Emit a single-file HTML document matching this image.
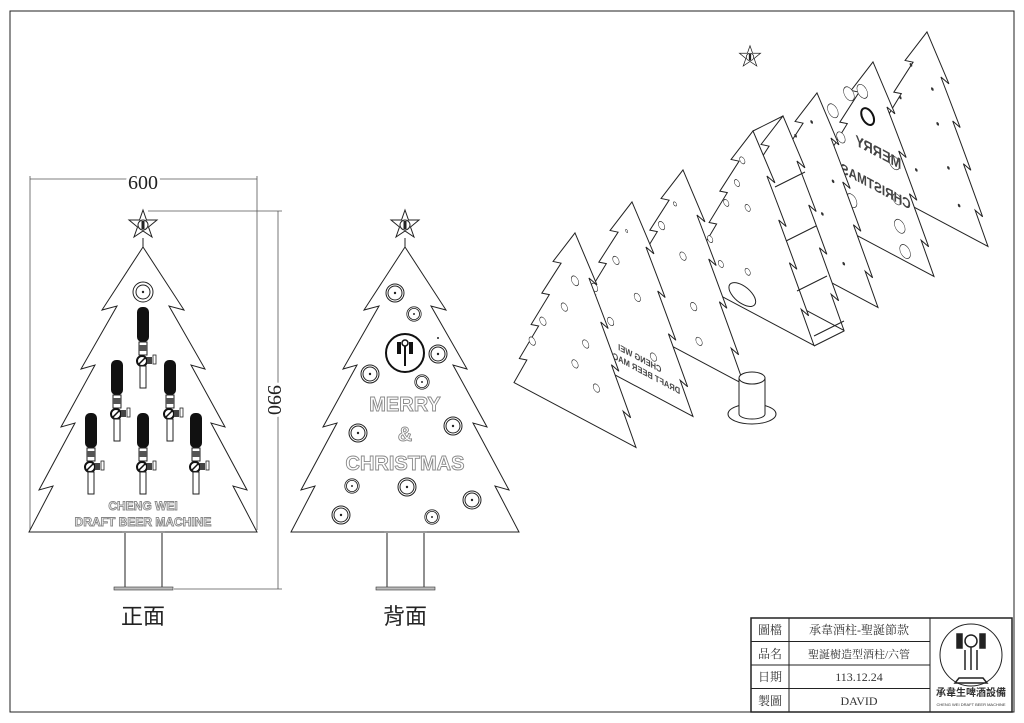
<!DOCTYPE html>
<html><head><meta charset="utf-8"><style>
html,body{margin:0;padding:0;background:#fff;}
svg{display:block;font-family:"Liberation Serif","Noto Serif CJK SC",serif;}
.l{fill:none;stroke:#222;stroke-width:1;}
.o{fill:#fff;stroke:#888;stroke-width:0.9;font-family:"Liberation Sans",sans-serif;font-weight:bold;}
</style></head><body>
<svg width="1024" height="723" viewBox="0 0 1024 723" xmlns="http://www.w3.org/2000/svg">
<defs>
<polygon id="tree" points="0,-285 41,-222 26,-226 62,-163 48,-167 82,-105 68,-109 104,-42 90,-46 114,0 -114,0 -90,-46 -104,-42 -68,-109 -82,-105 -48,-167 -62,-163 -26,-226 -41,-222" fill="#fff" stroke="#222" stroke-width="1" vector-effect="non-scaling-stroke"/>
<g id="star"><polygon points="0,-15 3.5,-5 14,-5 5.5,2 9,12 0,6 -9,12 -5.5,2 -14,-5 -3.5,-5" fill="#fff" stroke="#222"/><circle r="5" fill="none" stroke="#222"/><rect x="-1.5" y="-4" width="3" height="8" fill="#222"/></g>
<g id="tap"><rect x="-6" y="0" width="12" height="35" rx="5" fill="#111"/><rect x="-4" y="35" width="8" height="13" fill="#fff" stroke="#222"/><rect x="-4" y="38" width="8" height="6" fill="#555"/><circle cx="-1" cy="54" r="5" fill="#fff" stroke="#111" stroke-width="2"/><line x1="-4" y1="57" x2="2" y2="51" stroke="#111" stroke-width="1.5"/><rect x="4" y="50" width="5" height="7" fill="#444"/><rect x="10" y="48" width="3" height="9" fill="#fff" stroke="#222" stroke-width="0.8"/><rect x="-3" y="59" width="6" height="22" fill="#fff" stroke="#222"/></g>
<g id="orn"><circle r="9" fill="#fff" stroke="#222"/><circle r="7" fill="none" stroke="#222"/><circle r="1.2" fill="#222"/></g>
</defs>

<!-- frame -->
<rect x="10" y="11" width="1004" height="701" class="l"/>

<!-- FRONT VIEW -->
<line x1="30" y1="179" x2="257" y2="179" stroke="#555" stroke-width="0.8"/>
<line x1="30" y1="176" x2="30" y2="530" stroke="#555" stroke-width="0.8"/>
<line x1="257" y1="176" x2="257" y2="530" stroke="#555" stroke-width="0.8"/>
<text x="143" y="189" font-size="20" text-anchor="middle" fill="#222" style="paint-order:stroke" stroke="#fff" stroke-width="6">600</text>
<line x1="148" y1="211" x2="282" y2="211" stroke="#555" stroke-width="0.8"/>
<line x1="174" y1="589" x2="282" y2="589" stroke="#555" stroke-width="0.8"/>
<line x1="278" y1="211" x2="278" y2="589" stroke="#555" stroke-width="0.8"/>
<text transform="translate(268,400) rotate(90)" font-size="20" text-anchor="middle" fill="#222" style="paint-order:stroke" stroke="#fff" stroke-width="6">990</text>

<use href="#tree" transform="translate(143,532)"/>
<rect x="125" y="532" width="37" height="56" class="l"/>
<rect x="122" y="531" width="43" height="2" fill="#999"/>
<rect x="114" y="587" width="59" height="3" fill="#bbb" stroke="#333" stroke-width="0.6"/>
<line x1="143" y1="238" x2="143" y2="248" stroke="#222"/>
<use href="#star" transform="translate(143,225)"/>
<circle cx="143" cy="292" r="10" class="l"/><circle cx="143" cy="292" r="7" class="l"/><circle cx="143" cy="292" r="1.2" fill="#222"/>
<use href="#tap" transform="translate(143,307)"/>
<use href="#tap" transform="translate(117,360)"/>
<use href="#tap" transform="translate(170,360)"/>
<use href="#tap" transform="translate(91,413)"/>
<use href="#tap" transform="translate(143,413)"/>
<use href="#tap" transform="translate(196,413)"/>
<text x="143" y="510" font-size="12" text-anchor="middle" class="o">CHENG WEI</text>
<text x="143" y="526" font-size="12" text-anchor="middle" class="o">DRAFT BEER MACHINE</text>
<text x="143" y="624" font-size="22" text-anchor="middle" fill="#222" font-family="'Noto Sans CJK TC',sans-serif">正面</text>

<!-- BACK VIEW -->
<use href="#tree" transform="translate(405,532)"/>
<rect x="387" y="532" width="37" height="56" class="l"/>
<rect x="384" y="531" width="43" height="2" fill="#999"/>
<rect x="376" y="587" width="59" height="3" fill="#bbb" stroke="#333" stroke-width="0.6"/>
<line x1="405" y1="238" x2="405" y2="248" stroke="#222"/>
<use href="#star" transform="translate(405,225)"/>
<use href="#orn" transform="translate(395,293)"/>
<use href="#orn" transform="translate(414,314) scale(0.8)"/>
<use href="#orn" transform="translate(438,354)"/>
<use href="#orn" transform="translate(370,374)"/>
<use href="#orn" transform="translate(422,382) scale(0.8)"/>
<use href="#orn" transform="translate(358,433)"/>
<use href="#orn" transform="translate(453,426)"/>
<use href="#orn" transform="translate(352,486) scale(0.8)"/>
<use href="#orn" transform="translate(407,487)"/>
<use href="#orn" transform="translate(472,500)"/>
<use href="#orn" transform="translate(341,515)"/>
<use href="#orn" transform="translate(432,517) scale(0.8)"/>
<circle cx="405" cy="353" r="19" fill="#fff" stroke="#111" stroke-width="2"/>
<rect x="397" y="342" width="4" height="12" fill="#111"/><rect x="409" y="342" width="4" height="12" fill="#111"/>
<circle cx="405" cy="343" r="3" fill="none" stroke="#111" stroke-width="1.5"/><line x1="405" y1="346" x2="405" y2="366" stroke="#111" stroke-width="2"/>
<circle cx="438" cy="338" r="1" fill="#222"/>
<text x="405" y="411" font-size="20" text-anchor="middle" class="o">MERRY</text>
<text x="405" y="441" font-size="20" text-anchor="middle" class="o">&amp;</text>
<text x="405" y="470" font-size="20" text-anchor="middle" class="o">CHRISTMAS</text>
<text x="405" y="624" font-size="22" text-anchor="middle" fill="#222" font-family="'Noto Sans CJK TC',sans-serif">背面</text>

<!-- ISOMETRIC EXPLODED -->
<g>
<g transform="matrix(0.535,0.285,0,0.639,927,214)"><use href="#tree"/>
<g fill="#333"><circle cx="-30" cy="-220" r="2.5"/><circle cx="10" cy="-200" r="2.5"/><circle cx="-50" cy="-160" r="2.5"/><circle cx="20" cy="-150" r="2.5"/><circle cx="-60" cy="-100" r="2.5"/><circle cx="40" cy="-90" r="2.5"/><circle cx="-20" cy="-60" r="2.5"/><circle cx="60" cy="-40" r="2.5"/></g></g>
<g transform="matrix(0.535,0.285,0,0.639,873,244)"><use href="#tree"/>
<g fill="#fff" stroke="#222" vector-effect="non-scaling-stroke"><circle cx="-20" cy="-230" r="10"/><circle cx="-45" cy="-215" r="10"/><circle cx="-75" cy="-175" r="10"/><circle cx="-60" cy="-140" r="8"/><circle cx="40" cy="-145" r="10"/><circle cx="-90" cy="-120" r="10"/><circle cx="45" cy="-90" r="8"/><circle cx="-40" cy="-50" r="10"/><circle cx="50" cy="-50" r="10"/><circle cx="60" cy="-15" r="10"/></g>
<text x="-10" y="-140" font-size="24" font-family="Liberation Sans" font-weight="bold" fill="#444" transform="scale(-1,1)" text-anchor="middle">MERRY</text>
<text x="-5" y="-85" font-size="22" font-family="Liberation Sans" font-weight="bold" fill="#444" transform="scale(-1,1)" text-anchor="middle">CHRISTMAS</text>
<circle cx="-10" cy="-195" r="12" fill="none" stroke="#111" stroke-width="2" vector-effect="non-scaling-stroke"/></g>
<g transform="matrix(0.535,0.285,0,0.639,817,275)"><use href="#tree"/>
<g fill="#333"><circle cx="-10" cy="-235" r="2.5"/><circle cx="-40" cy="-200" r="2.5"/><circle cx="-60" cy="-150" r="2.5"/><circle cx="30" cy="-160" r="2.5"/><circle cx="-80" cy="-90" r="2.5"/><circle cx="10" cy="-100" r="2.5"/><circle cx="-30" cy="-50" r="2.5"/><circle cx="50" cy="-40" r="2.5"/></g></g>
<!-- box tree -->
<g transform="matrix(0.535,0.285,0,0.639,783,298)"><use href="#tree"/></g>
<g transform="matrix(0.535,0.285,0,0.639,753,313)"><use href="#tree"/>
<g fill="#fff" stroke="#222" vector-effect="non-scaling-stroke"><circle cx="-20" cy="-230" r="5"/><circle cx="-30" cy="-190" r="5"/><circle cx="-50" cy="-150" r="5"/><circle cx="-10" cy="-160" r="5"/><circle cx="-80" cy="-80" r="5"/><circle cx="-10" cy="-60" r="5"/><circle cx="-60" cy="-50" r="5"/></g>
<ellipse cx="-20" cy="-20" rx="25" ry="15" fill="#fff" stroke="#222" vector-effect="non-scaling-stroke"/></g>
<path d="M753,131 L783,116 M775,187 L805,172 M786,241 L816,226 M797,291 L827,276 M814,336 L844,321 M814,346 L844,331" class="l"/>
<g transform="matrix(0.535,0.285,0,0.639,683,352)"><use href="#tree"/>
<g fill="#fff" stroke="#222" vector-effect="non-scaling-stroke"><circle cx="-15" cy="-225" r="3"/><circle cx="-40" cy="-180" r="6"/><circle cx="-70" cy="-140" r="6"/><circle cx="0" cy="-150" r="6"/><circle cx="-60" cy="-90" r="6"/><circle cx="20" cy="-80" r="6"/><circle cx="30" cy="-30" r="6"/></g></g>
<g transform="matrix(0.535,0.285,0,0.639,632,384)"><use href="#tree"/>
<g fill="#fff" stroke="#222" vector-effect="non-scaling-stroke"><circle cx="-10" cy="-235" r="2"/><circle cx="-30" cy="-180" r="6"/><circle cx="-70" cy="-120" r="6"/><circle cx="10" cy="-140" r="6"/><circle cx="-40" cy="-80" r="6"/><circle cx="40" cy="-60" r="6"/></g>
<text x="-55" y="-42" font-size="14" font-family="Liberation Sans" font-weight="bold" fill="#444" transform="scale(-1,1)">CHENG WEI</text>
<text x="-90" y="-24" font-size="14" font-family="Liberation Sans" font-weight="bold" fill="#444" transform="scale(-1,1)">DRAFT BEER MACHINE</text></g>
<g transform="matrix(0.535,0.285,0,0.639,575,415)"><use href="#tree"/>
<g fill="#fff" stroke="#222" vector-effect="non-scaling-stroke"><circle cx="0" cy="-210" r="7"/><circle cx="-20" cy="-160" r="6"/><circle cx="-60" cy="-120" r="6"/><circle cx="20" cy="-120" r="6"/><circle cx="-80" cy="-80" r="6"/><circle cx="0" cy="-80" r="6"/><circle cx="40" cy="-60" r="6"/></g></g>
<!-- cylinder -->
<ellipse cx="752" cy="414" rx="24" ry="10" fill="#fff" stroke="#222"/>
<rect x="739" y="378" width="26" height="36" fill="#fff" stroke="none"/>
<line x1="739" y1="378" x2="739" y2="414" class="l"/><line x1="765" y1="378" x2="765" y2="414" class="l"/>
<path d="M739,414 A13,5 0 0 0 765,414" class="l"/>
<ellipse cx="752" cy="378" rx="13" ry="6" fill="#fff" stroke="#222"/>
<use href="#star" transform="translate(750,57) scale(0.75)"/>
</g>

<!-- title block -->
<g stroke="#222" fill="none">
<rect x="751" y="618" width="261" height="94" stroke-width="1.5"/>
<line x1="789" y1="618" x2="789" y2="712"/><line x1="930" y1="618" x2="930" y2="712"/>
<line x1="751" y1="641.5" x2="930" y2="641.5"/><line x1="751" y1="665" x2="930" y2="665"/><line x1="751" y1="688.5" x2="930" y2="688.5"/>
<circle cx="971" cy="655" r="31"/>
</g>
<g font-size="12" fill="#333" text-anchor="middle">
<text x="770" y="634">圖檔</text><text x="770" y="658">品名</text><text x="770" y="681">日期</text><text x="770" y="705">製圖</text>
<text x="859" y="634">承韋酒柱-聖誕節款</text>
<text x="859" y="658" font-size="11">聖誕樹造型酒柱/六管</text>
<text x="859" y="681">113.12.24</text>
<text x="859" y="705">DAVID</text>
<text x="971" y="696" font-size="10" font-weight="bold" font-family="'Noto Sans CJK TC',sans-serif">承韋生啤酒設備</text>
<text x="971" y="706" font-size="4" font-family="Liberation Sans">CHENG WEI DRAFT BEER MACHINE</text>
</g>
<g stroke="#222" fill="none" stroke-width="1.5">
<circle cx="971" cy="641" r="6"/><line x1="971" y1="647" x2="971" y2="670"/>
<rect x="957" y="634" width="5" height="14" fill="#222"/><rect x="980" y="634" width="5" height="14" fill="#222"/>
<path d="M965,670 V650 M977,670 V650 M955,683 H987 L983,678 H959 Z"/>
</g>
</svg>
</body></html>
